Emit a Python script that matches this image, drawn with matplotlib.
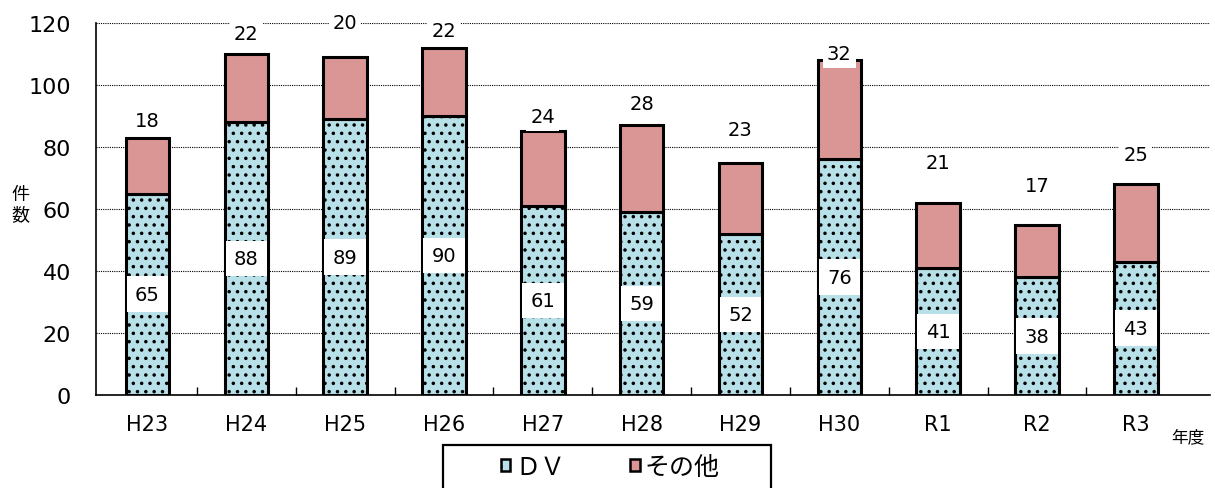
import matplotlib.pyplot as plt
from matplotlib.patches import Patch, Rectangle
import numpy as np

plt.rcParams['font.family'] = ['DejaVu Sans', 'Noto Sans CJK JP']
plt.rcParams['hatch.linewidth'] = 1.3

years = ['H23', 'H24', 'H25', 'H26', 'H27', 'H28', 'H29', 'H30', 'R1', 'R2', 'R3']
dv = [65, 88, 89, 90, 61, 59, 52, 76, 41, 38, 43]
other = [18, 22, 20, 22, 24, 28, 23, 32, 21, 17, 25]
# heights where the "その他" labels sit
other_label_y = [88.4, 116.5, 120, 117.7, 89.7, 94, 85.8, 110, 75, 67.7, 77.7]

blue = '#b7e0e8'
pink = '#d99694'

fig = plt.figure(figsize=(12.15, 4.89), dpi=100)
ax = fig.add_axes([96 / 1215, 93 / 489, 1114 / 1215, 372 / 489])

x = np.arange(len(years))
w = 0.44
ax.bar(x, dv, w, color=blue, edgecolor='black', linewidth=2.2, hatch='..', zorder=2)
ax.bar(x, other, w, bottom=dv, color=pink, edgecolor='black', linewidth=2.2, zorder=2)

box = dict(facecolor='white', edgecolor='none', pad=6)
for i in range(len(years)):
    ax.text(x[i], dv[i] / 2, str(dv[i]), ha='center', va='center', fontsize=14,
            bbox=box, zorder=4)
    ax.text(x[i], other_label_y[i], str(other[i]), ha='center', va='center',
            fontsize=14, bbox=dict(facecolor='white', edgecolor='none', pad=3),
            zorder=4, clip_on=False)

ax.set_xlim(-0.52, 10.75)
ax.set_ylim(0, 120)
ax.set_yticks(range(0, 121, 20))
ax.set_xticks(x)
ax.set_xticklabels(years)
ax.set_xticks(x[:-1] + 0.5, minor=True)
ax.tick_params(axis='x', which='major', length=0, labelsize=15, pad=14)
ax.tick_params(axis='x', which='minor', length=6, direction='in', width=1)
ax.tick_params(axis='y', length=0, labelsize=16, pad=18)
ax.yaxis.grid(True, linestyle=(0, (1, 1)), color='black', linewidth=0.8, zorder=0)
ax.set_axisbelow(True)
for s in ['top', 'right']:
    ax.spines[s].set_visible(False)
ax.spines['left'].set_linewidth(1.2)
ax.spines['bottom'].set_linewidth(1.2)

fig.text(20 / 1215, 1 - 205 / 489, '件\n数', ha='center', va='center', fontsize=13,
         linespacing=1.2, family='Noto Sans CJK JP')
fig.text(1188 / 1215, 1 - 438 / 489, '年度', ha='center', va='center', fontsize=12,
         family='Noto Sans CJK JP')

# legend frame, running off the bottom edge of the figure
fig.patches.append(Rectangle((443 / 1215, -0.05), (771 - 443) / 1215, 0.05 + 43 / 489,
                             transform=fig.transFigure, facecolor='white',
                             edgecolor='black', linewidth=1.6, clip_on=False))

handles = [Patch(facecolor=blue, edgecolor='black', hatch='.', linewidth=1.8),
           Patch(facecolor=pink, edgecolor='black', linewidth=1.8)]
leg = fig.legend(handles, ['ＤＶ', 'その他'], loc='center',
                 bbox_to_anchor=(610 / 1215, 1 - 468 / 489), ncol=2,
                 prop={'family': 'Noto Sans CJK JP', 'size': 18},
                 frameon=False, handlelength=0.38, handleheight=0.38,
                 handletextpad=0.2, columnspacing=2.6, borderpad=0, borderaxespad=0)

fig.savefig('out.png', dpi=100)
